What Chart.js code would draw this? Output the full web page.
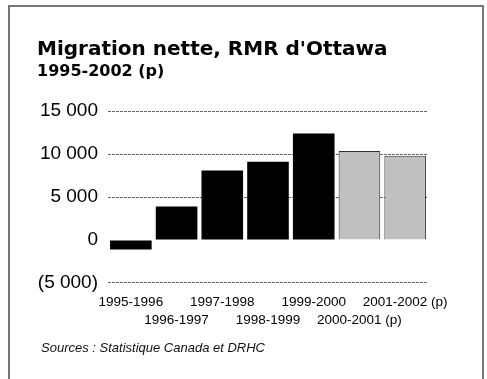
<!DOCTYPE html>
<html>
<head>
<meta charset="utf-8">
<script src="https://cdn.jsdelivr.net/npm/chart.js@4/dist/chart.umd.min.js"></script>
<style>
  html, body { margin: 0; padding: 0; background: #fff; }
  body { width: 487px; height: 379px; position: relative; overflow: hidden; }
  #frame {
    position: absolute; left: 8px; top: 5px; width: 476px; height: 420px;
    box-sizing: border-box; border: 2px solid #777;
  }
  #wrap { position: absolute; left: 0; top: 0; width: 487px; height: 379px; }
  #sources {
    position: absolute; left: 41px; top: 340px;
    font: italic 13px "Liberation Sans", Arial, sans-serif; color: #111;
  }
</style>
</head>
<body>
<div id="frame"></div>
<div id="wrap"><canvas id="migChart"></canvas></div>
<div id="sources">Sources : Statistique Canada et DRHC</div>
<script>
const periods = ["1995-1996", "1996-1997", "1997-1998", "1998-1999", "1999-2000", "2000-2001 (p)", "2001-2002 (p)"];
const netMigration = [-1100, 3900, 8100, 9100, 12400, 10350, 9800];
const preliminary = [false, false, false, false, false, true, true];
const yTicks = [-5000, 0, 5000, 10000, 15000];

// staggered labels: even entries on the first line, odd on the second
const staggered = periods.map((p, i) => i % 2 === 0 ? [p, " "] : [" ", p]);

function fmt(v) {
  const s = Math.abs(v).toString().replace(/\B(?=(\d{3})+(?!\d))/g, " ");
  return v < 0 ? "(" + s + ")" : s;
}

const CHART = document.getElementById("migChart");
let migChart = new Chart(CHART, {
  type: 'bar',
  data: {
    labels: staggered,
    datasets: [{
      data: netMigration,
      backgroundColor: preliminary.map(p => p ? "#c0c0c0" : "#000"),
      borderColor: preliminary.map(p => p ? "#333" : "#000"),
      borderWidth: preliminary.map(p => p ? 1 : 0),
      barPercentage: 0.91,
      categoryPercentage: 1.0,
    }]
  },
  options: {
    responsive: true,
    maintainAspectRatio: false,
    animation: false,
    layout: { padding: { top: 38, left: 37, right: 59, bottom: 47 } },
    plugins: {
      legend: { display: false },
      tooltip: { enabled: false },
      title: {
        display: true,
        text: "Migration nette, RMR d'Ottawa",
        align: 'start',
        color: '#000',
        font: { family: "'DejaVu Sans'", size: 20, weight: 'bold', lineHeight: 1.2 },
        padding: { top: 0, bottom: 0 },
      },
      subtitle: {
        display: true,
        text: "1995-2002 (p)",
        align: 'start',
        color: '#000',
        font: { family: "'DejaVu Sans'", size: 16, weight: 'bold', lineHeight: 1.2 },
        padding: { top: 0, bottom: 30 },
      }
    },
    scales: {
      x: {
        grid: { display: false },
        border: { display: false },
        // let the outer labels run past the plot edges
        afterFit: s => { s.paddingLeft = 0; s.paddingRight = 0; },
        ticks: {
          autoSkip: false,
          maxRotation: 0,
          padding: 3,
          color: '#000',
          font: { family: "'Liberation Sans'", size: 13.5, lineHeight: 1.3 },
        }
      },
      y: {
        min: -5000,
        max: 15000,
        afterBuildTicks: axis => { axis.ticks = yTicks.map(v => ({ value: v })); },
        afterFit: s => { s.width = 71; },
        grid: {
          drawTicks: false,
          color: ctx => ctx.tick && ctx.tick.value === 0 ? 'rgba(0,0,0,0)' : '#666',
          lineWidth: 1,
        },
        border: { display: false, dash: [3, 1] },
        ticks: {
          padding: 10,
          color: '#000',
          font: { family: "'Liberation Sans'", size: 19 },
          callback: v => fmt(v),
        }
      }
    }
  }
});
</script>
</body>
</html>
